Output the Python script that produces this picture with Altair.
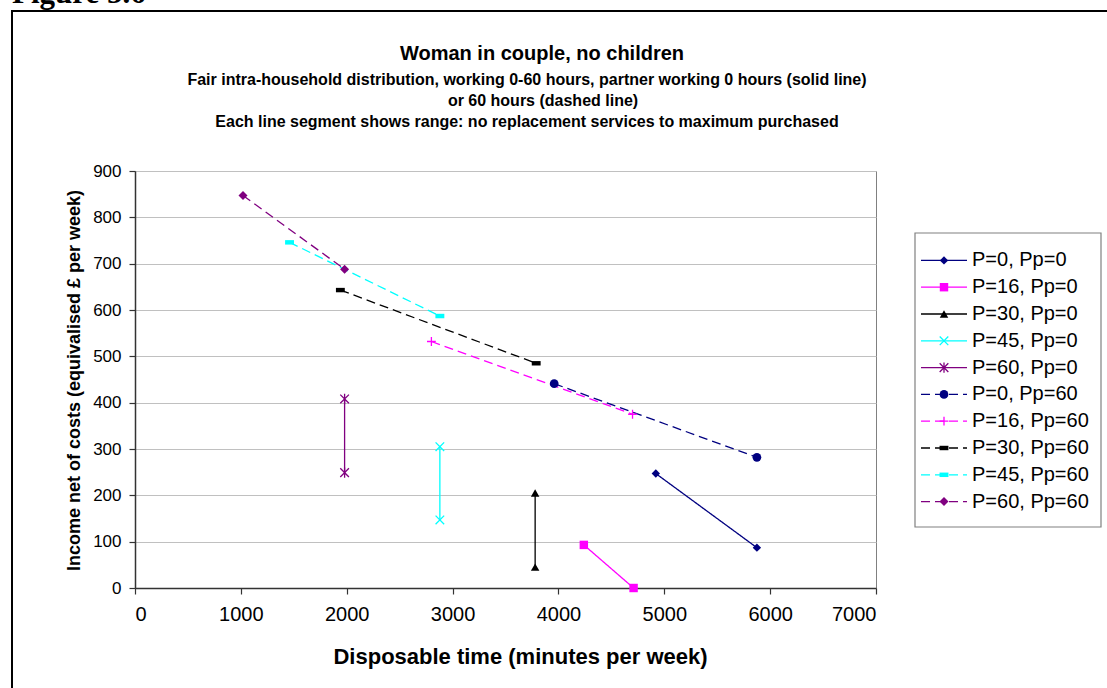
import altair as alt
import pandas as pd

# ---------------- data ----------------
series = ["P=0, Pp=0", "P=16, Pp=0", "P=30, Pp=0", "P=45, Pp=0", "P=60, Pp=0",
          "P=0, Pp=60", "P=16, Pp=60", "P=30, Pp=60", "P=45, Pp=60", "P=60, Pp=60"]
start_time = [4920, 4240, 3780, 2880, 1980, 3960, 2800, 1940, 1460, 1020]
end_time = [5875, 4710, 3780, 2880, 1980, 5875, 4700, 3790, 2880, 1980]
start_income = [247, 93, 205, 305, 408, 441, 532, 643, 746, 847]
end_income = [87, 0, 45, 147, 249, 282, 375, 485, 587, 688]

x_ticks = [0, 1000, 2000, 3000, 4000, 5000, 6000, 7000]
y_ticks = [0, 100, 200, 300, 400, 500, 600, 700, 800, 900]

figure_label = "Figure 5.6"
title_main = "Woman in couple, no children"
title_lines = [
    "Fair intra-household distribution, working 0-60 hours, partner working 0 hours (solid line)",
    "or 60 hours (dashed line)",
    "Each line segment shows range: no replacement services  to maximum purchased",
]
x_title = "Disposable time (minutes per week)"
y_title = "Income net of costs (equivalised \u00a3 per week)"

# ---------------- styles ----------------
colors = ["#000080", "#FF00FF", "#000000", "#00FFFF", "#800080",
          "#000080", "#FF00FF", "#000000", "#00FFFF", "#800080"]
dashes = [[1, 0]] * 5 + [[9, 5]] * 5
XMARK = "M-1,-1L1,1M-1,1L1,-1"
ASTER = "M-1,-1L1,1M-1,1L1,-1M0,-1.2L0,1.2"
PLUS = "M-1,0L1,0M0,-1L0,1"
BAR = "M-1,-0.5H1V0.5H-1Z"
shapes = ["diamond", "square", "triangle-up", XMARK, ASTER,
          "circle", PLUS, BAR, BAR, "diamond"]
sizes = [70, 81, 80, 64, 64, 100, 81, 25, 30, 80]
filled = [True, True, True, False, False, True, False, True, True, True]

rows = []
for i, s in enumerate(series):
    rows.append({"series": s, "time": start_time[i], "income": start_income[i], "pt": 0, "filled": filled[i]})
    rows.append({"series": s, "time": end_time[i], "income": end_income[i], "pt": 1, "filled": filled[i]})
df = pd.DataFrame(rows)
leg_df = pd.DataFrame({"series": series, "filled": filled})

W, H = 741, 417

color_enc = alt.Color("series:N", scale=alt.Scale(domain=series, range=colors), legend=None)
dash_enc = alt.StrokeDash("series:N", scale=alt.Scale(domain=series, range=dashes), legend=None)
shape_enc = alt.Shape("series:N", scale=alt.Scale(domain=series, range=shapes), legend=None)
size_enc = alt.Size("series:N", scale=alt.Scale(domain=series, range=sizes), legend=None)

xs = alt.Scale(domain=[0, 7000], nice=False, zero=False)
ys = alt.Scale(domain=[0, 900], nice=False, zero=False)

base = alt.Chart(df)
lines = base.mark_line(strokeWidth=1.3).encode(
    x=alt.X("time:Q", scale=xs, axis=alt.Axis(values=x_ticks, format="d", title=x_title, titleX=385, titleY=75,
                                              titleBaseline="alphabetic", titleAlign="center")),
    y=alt.Y("income:Q", scale=ys, axis=alt.Axis(values=y_ticks, title=y_title, titleX=-61, titleY=209,
                                                titleBaseline="middle", titleAlign="center")),
    color=color_enc, strokeDash=dash_enc, detail="series:N", order=alt.Order("pt:O"),
)
pts_f = base.transform_filter("datum.filled").mark_point(filled=True, opacity=1).encode(
    x=alt.X("time:Q", scale=xs), y=alt.Y("income:Q", scale=ys),
    color=color_enc, shape=shape_enc, size=size_enc)
pts_s = base.transform_filter("!datum.filled").mark_point(filled=False, opacity=1, strokeWidth=1.3).encode(
    x=alt.X("time:Q", scale=xs), y=alt.Y("income:Q", scale=ys),
    color=color_enc, shape=shape_enc, size=size_enc)
main = alt.layer(lines, pts_f, pts_s)

# ---------------- legend ----------------
ly = alt.Y("series:N", scale=alt.Scale(domain=series, range=[76, 344]), axis=None)
lbase = alt.Chart(leg_df)
leg_box = alt.Chart(pd.DataFrame({"k": [0]})).mark_rect(fill="white", stroke="#808080", strokeWidth=1.2).encode(
    x=alt.value(780), x2=alt.value(966), y=alt.value(62), y2=alt.value(356))
leg_rule = lbase.mark_rule(strokeWidth=1.3).encode(
    x=alt.value(786), x2=alt.value(832), y=ly, color=color_enc, strokeDash=dash_enc)
leg_pf = lbase.transform_filter("datum.filled").mark_point(filled=True, opacity=1).encode(
    x=alt.value(809), y=ly, color=color_enc, shape=shape_enc, size=size_enc)
leg_ps = lbase.transform_filter("!datum.filled").mark_point(filled=False, opacity=1, strokeWidth=1.3).encode(
    x=alt.value(809), y=ly, color=color_enc, shape=shape_enc, size=size_enc)
leg_txt = lbase.mark_text(align="left", baseline="middle", fontSize=20, font="Liberation Sans", color="black").encode(
    x=alt.value(837), y=ly, text="series:N")
legend = alt.layer(leg_box, leg_rule, leg_pf, leg_ps, leg_txt)

# ---------------- titles and frame ----------------
one = pd.DataFrame({"k": [0]})
frame = alt.Chart(one).mark_rect(filled=False, stroke="black", strokeWidth=2).encode(
    x=alt.value(-123), x2=alt.value(1100), y=alt.value(-160), y2=alt.value(700))
fig_txt = alt.Chart(one).mark_text(align="left", baseline="alphabetic", fontSize=31, fontWeight="bold",
                                   font="Liberation Serif", color="black").encode(
    x=alt.value(-123), y=alt.value(-168), text=alt.value(figure_label))
t0 = alt.Chart(one).mark_text(align="center", baseline="alphabetic", fontSize=20, fontWeight="bold",
                              font="Liberation Sans", color="black").encode(
    x=alt.value(407), y=alt.value(-111), text=alt.value(title_main))
tpos = [(392, -86), (408, -65), (392, -44)]
tl = []
for (px, py), t in zip(tpos, title_lines):
    tl.append(alt.Chart(one).mark_text(align="center", baseline="alphabetic", fontSize=16, fontWeight="bold",
                                       font="Liberation Sans", color="black").encode(
        x=alt.value(px), y=alt.value(py), text=alt.value(t)))

chart = alt.layer(main, legend, frame, fig_txt, t0, *tl).resolve_scale(y="independent").properties(
    width=W, height=H,
    padding={"left": 135, "top": 171, "right": 231, "bottom": 100},
    autosize=alt.AutoSizeParams(type="none"),
    background="white",
).configure_view(stroke="#808080", strokeWidth=1).configure_axis(
    labelFont="Liberation Sans", titleFont="Liberation Sans", labelColor="black", titleColor="black",
    domainColor="#333333", domainWidth=1.5, tickColor="#333333", tickWidth=1.2,
).configure_axisX(
    grid=False, labelFontSize=20, tickSize=6, labelPadding=10, titleFontSize=22, titleFontWeight="bold",
).configure_axisY(
    grid=True, gridColor="#c0c0c0", gridWidth=1, labelFontSize=17, tickSize=6, labelPadding=8,
    titleFontSize=18, titleFontWeight="bold",
)

chart.save("out.html", embed_options={"renderer": "svg", "actions": False})
